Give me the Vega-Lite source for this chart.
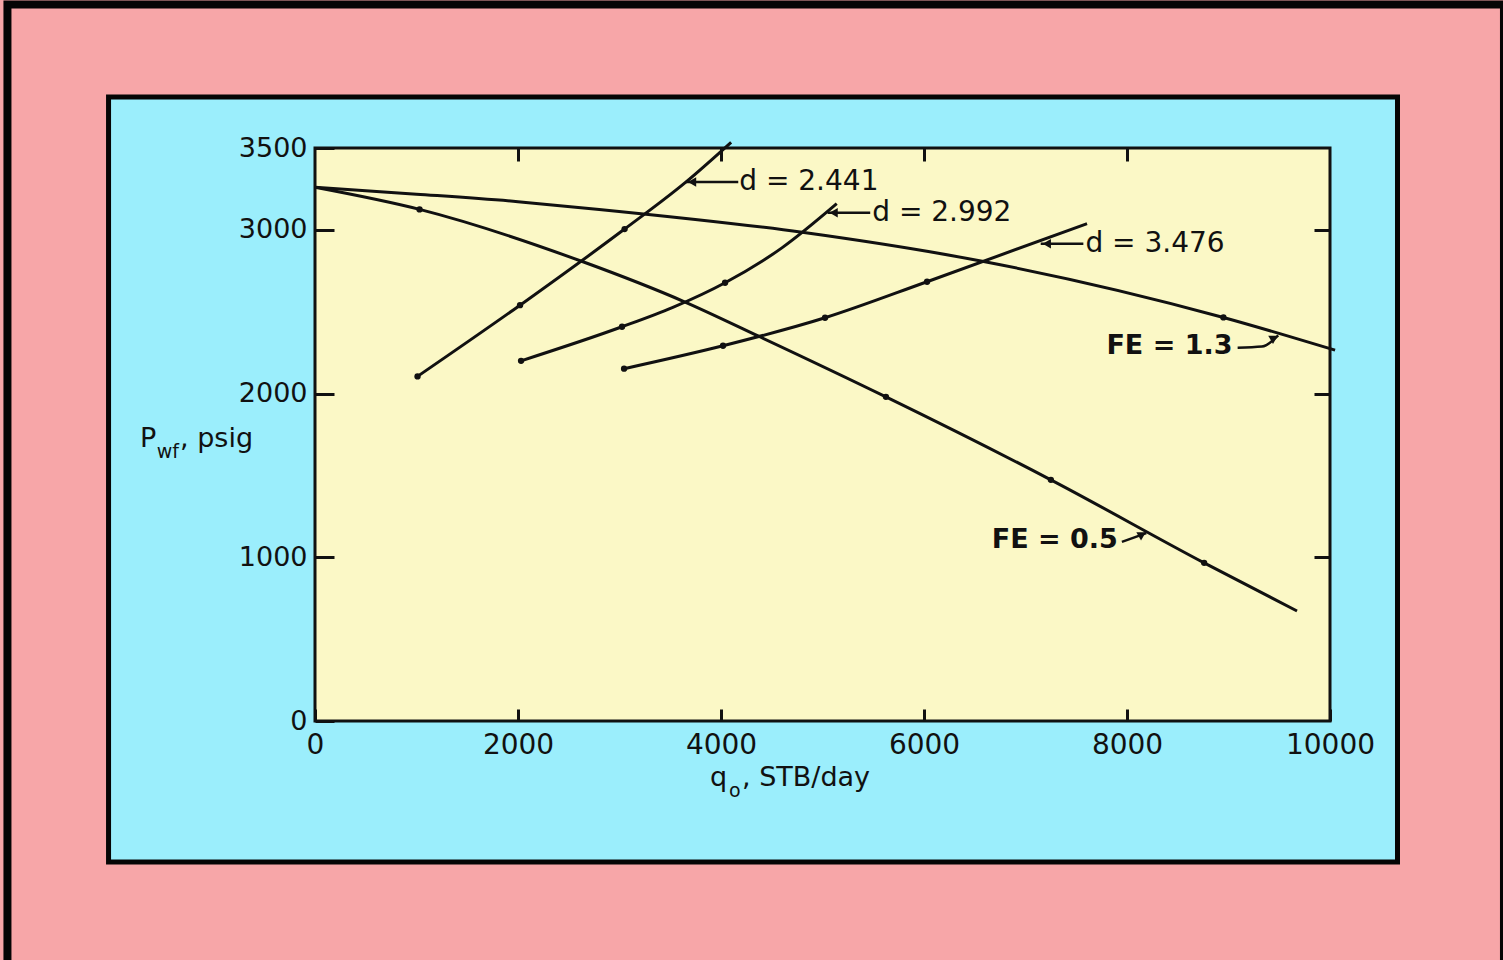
{
  "$schema": "https://vega.github.io/schema/vega-lite/v6.json",
  "width": 1015,
  "height": 573,
  "autosize": "none",
  "padding": {"left": 315, "top": 148, "right": 173, "bottom": 239},
  "background": "#F7A6A8",
  "config": {
    "view": {"stroke": null},
    "axis": {"zindex": 2, "domain": false, "grid": false, "title": null, "labelFont": "DejaVu Sans", "labelColor": "#111111", "tickColor": "#111111", "tickWidth": 3, "format": "d"}
  },
  "datasets": {
    "curves": [
      {"curve": "FE13", "q": 0, "p": 3260}, {"curve": "FE13", "q": 1000, "p": 3218}, {"curve": "FE13", "q": 2000, "p": 3172}, {"curve": "FE13", "q": 2800, "p": 3125}, {"curve": "FE13", "q": 4800, "p": 2985}, {"curve": "FE13", "q": 6600, "p": 2805}, {"curve": "FE13", "q": 8950, "p": 2465}, {"curve": "FE13", "q": 10050, "p": 2265},
      {"curve": "FE05", "q": 0, "p": 3260}, {"curve": "FE05", "q": 1030, "p": 3125}, {"curve": "FE05", "q": 2640, "p": 2805}, {"curve": "FE05", "q": 3635, "p": 2562}, {"curve": "FE05", "q": 4365, "p": 2352}, {"curve": "FE05", "q": 5625, "p": 1980}, {"curve": "FE05", "q": 7250, "p": 1473}, {"curve": "FE05", "q": 8760, "p": 966}, {"curve": "FE05", "q": 9675, "p": 672},
      {"curve": "d2441", "q": 1010, "p": 2105}, {"curve": "d2441", "q": 2020, "p": 2540}, {"curve": "d2441", "q": 3050, "p": 3005}, {"curve": "d2441", "q": 3650, "p": 3290}, {"curve": "d2441", "q": 4100, "p": 3535},
      {"curve": "d2992", "q": 2030, "p": 2200}, {"curve": "d2992", "q": 3025, "p": 2408}, {"curve": "d2992", "q": 3520, "p": 2525}, {"curve": "d2992", "q": 4040, "p": 2677}, {"curve": "d2992", "q": 4600, "p": 2890}, {"curve": "d2992", "q": 5140, "p": 3160},
      {"curve": "d3476", "q": 3045, "p": 2152}, {"curve": "d3476", "q": 4020, "p": 2292}, {"curve": "d3476", "q": 5025, "p": 2463}, {"curve": "d3476", "q": 6030, "p": 2683}, {"curve": "d3476", "q": 7606, "p": 3038}
    ],
    "dots": [
      {"q": 1030, "p": 3125}, {"q": 5625, "p": 1980}, {"q": 7250, "p": 1473}, {"q": 8760, "p": 966},
      {"q": 8950, "p": 2465},
      {"q": 1010, "p": 2105}, {"q": 2020, "p": 2540}, {"q": 3050, "p": 3005},
      {"q": 2030, "p": 2200}, {"q": 3025, "p": 2408}, {"q": 4040, "p": 2677},
      {"q": 3045, "p": 2152}, {"q": 4020, "p": 2292}, {"q": 5025, "p": 2463}, {"q": 6030, "p": 2683}
    ],
    "leaders": [
      {"id": "L1", "o": 1, "q": 3655, "p": 3292}, {"id": "L1", "o": 2, "q": 4170, "p": 3292},
      {"id": "L2", "o": 1, "q": 5050, "p": 3105}, {"id": "L2", "o": 2, "q": 5470, "p": 3105},
      {"id": "L3", "o": 1, "q": 7150, "p": 2915}, {"id": "L3", "o": 2, "q": 7570, "p": 2915},
      {"id": "L4", "o": 1, "q": 9090, "p": 2280}, {"id": "L4", "o": 2, "q": 9330, "p": 2287}, {"id": "L4", "o": 3, "q": 9490, "p": 2355},
      {"id": "L5", "o": 1, "q": 7950, "p": 1094}, {"id": "L5", "o": 2, "q": 8190, "p": 1148}
    ],
    "arrowsLeft": [
      {"q": 3715, "p": 3292}, {"q": 5110, "p": 3105}, {"q": 7210, "p": 2915}
    ],
    "arrowsUp": [
      {"q": 9450, "p": 2340}, {"q": 8150, "p": 1140}
    ],
    "dLabels": [
      {"q": 4180, "p": 3292, "label": "d = 2.441"},
      {"q": 5490, "p": 3105, "label": "d = 2.992"},
      {"q": 7590, "p": 2915, "label": "d = 3.476"}
    ],
    "feLabels": [
      {"q": 9040, "p": 2290, "label": "FE = 1.3"},
      {"q": 7910, "p": 1106, "label": "FE = 0.5"}
    ],
    "titleMain": [
      {"q": -1724, "p": 1675, "label": "P"},
      {"q": -1330, "p": 1675, "label": ", psig"},
      {"q": 3892, "p": -397, "label": "q"},
      {"q": 4207, "p": -397, "label": ", STB/day"}
    ],
    "titleSub": [
      {"q": -1560, "p": 1608, "label": "wf"},
      {"q": 4079, "p": -465, "label": "o"}
    ],
    "one": [{"k": 1}]
  },
  "layer": [
    {
      "data": {"name": "one"},
      "mark": {"type": "rect", "fill": "#F7A6A8", "stroke": "#050505", "strokeWidth": 8},
      "encoding": {
        "x": {"datum": -3030, "type": "quantitative", "scale": {"domain": [0, 10000], "nice": false, "zero": false}, "axis": null},
        "x2": {"datum": 11714},
        "y": {"datum": 4377, "type": "quantitative", "scale": {"domain": [0, 3500], "nice": false, "zero": false}, "axis": null},
        "y2": {"datum": -1600}
      }
    },
    {
      "data": {"name": "one"},
      "mark": {"type": "rect", "fill": "#9BEEFC", "stroke": "#050505", "strokeWidth": 5},
      "encoding": {
        "x": {"datum": -2034, "type": "quantitative", "scale": {"domain": [0, 10000], "nice": false, "zero": false}, "axis": null},
        "x2": {"datum": 10665},
        "y": {"datum": 3811, "type": "quantitative", "scale": {"domain": [0, 3500], "nice": false, "zero": false}, "axis": null},
        "y2": {"datum": -862}
      }
    },
    {
      "data": {"name": "one"},
      "mark": {"type": "rect", "fill": "#FBF8C6", "stroke": "#111111", "strokeWidth": 3},
      "encoding": {
        "x": {"datum": 0, "type": "quantitative", "scale": {"domain": [0, 10000], "nice": false, "zero": false},
              "axis": {"orient": "top", "values": [2000, 4000, 6000, 8000], "labels": false, "tickSize": -13, "zindex": 2}},
        "x2": {"datum": 10000},
        "y": {"datum": 0, "type": "quantitative", "scale": {"domain": [0, 3500], "nice": false, "zero": false},
              "axis": {"orient": "right", "values": [1000, 2000, 3000], "labels": false, "tickSize": -16, "zindex": 2}},
        "y2": {"datum": 3500}
      }
    },
    {
      "data": {"name": "curves"},
      "mark": {"type": "line", "interpolate": "monotone", "color": "#111111", "strokeWidth": 3},
      "encoding": {
        "x": {"field": "q", "type": "quantitative", "scale": {"domain": [0, 10000], "nice": false, "zero": false},
              "axis": {"orient": "bottom", "values": [0, 2000, 4000, 6000, 8000, 10000], "tickSize": -12, "labelFontSize": 28, "labelPadding": 22, "labelFlush": false, "zindex": 2}},
        "y": {"field": "p", "type": "quantitative", "scale": {"domain": [0, 3500], "nice": false, "zero": false},
              "axis": {"orient": "left", "values": [0, 1000, 2000, 3000, 3500], "tickSize": -19, "labelFontSize": 27, "labelPadding": 27, "labelFlush": false, "zindex": 2}},
        "detail": {"field": "curve"}
      }
    },
    {
      "data": {"name": "dots"},
      "mark": {"type": "point", "filled": true, "color": "#111111", "size": 40, "opacity": 1},
      "encoding": {
        "x": {"field": "q", "type": "quantitative", "axis": null},
        "y": {"field": "p", "type": "quantitative", "axis": null}
      }
    },
    {
      "data": {"name": "leaders"},
      "mark": {"type": "line", "interpolate": "monotone", "color": "#111111", "strokeWidth": 2.5},
      "encoding": {
        "x": {"field": "q", "type": "quantitative", "axis": null},
        "y": {"field": "p", "type": "quantitative", "axis": null},
        "detail": {"field": "id"},
        "order": {"field": "o"}
      }
    },
    {
      "data": {"name": "arrowsLeft"},
      "mark": {"type": "point", "shape": "triangle-left", "filled": true, "color": "#111111", "size": 90, "opacity": 1},
      "encoding": {
        "x": {"field": "q", "type": "quantitative", "axis": null},
        "y": {"field": "p", "type": "quantitative", "axis": null}
      }
    },
    {
      "data": {"name": "arrowsUp"},
      "mark": {"type": "point", "shape": "triangle-right", "angle": 330, "filled": true, "color": "#111111", "size": 90, "opacity": 1},
      "encoding": {
        "x": {"field": "q", "type": "quantitative", "axis": null},
        "y": {"field": "p", "type": "quantitative", "axis": null}
      }
    },
    {
      "data": {"name": "dLabels"},
      "mark": {"type": "text", "align": "left", "baseline": "middle", "font": "DejaVu Sans", "fontSize": 28, "color": "#111111"},
      "encoding": {
        "x": {"field": "q", "type": "quantitative", "axis": null},
        "y": {"field": "p", "type": "quantitative", "axis": null},
        "text": {"field": "label"}
      }
    },
    {
      "data": {"name": "feLabels"},
      "mark": {"type": "text", "align": "right", "baseline": "middle", "font": "DejaVu Sans", "fontWeight": "bold", "fontSize": 27, "color": "#111111"},
      "encoding": {
        "x": {"field": "q", "type": "quantitative", "axis": null},
        "y": {"field": "p", "type": "quantitative", "axis": null},
        "text": {"field": "label"}
      }
    },
    {
      "data": {"name": "titleMain"},
      "mark": {"type": "text", "align": "left", "baseline": "alphabetic", "font": "DejaVu Sans", "fontSize": 27, "color": "#111111"},
      "encoding": {
        "x": {"field": "q", "type": "quantitative", "axis": null},
        "y": {"field": "p", "type": "quantitative", "axis": null},
        "text": {"field": "label"}
      }
    },
    {
      "data": {"name": "titleSub"},
      "mark": {"type": "text", "align": "left", "baseline": "alphabetic", "font": "DejaVu Sans", "fontSize": 19, "color": "#111111"},
      "encoding": {
        "x": {"field": "q", "type": "quantitative", "axis": null},
        "y": {"field": "p", "type": "quantitative", "axis": null},
        "text": {"field": "label"}
      }
    }
  ],
  "resolve": {"axis": {"x": "independent", "y": "independent"}}
}
